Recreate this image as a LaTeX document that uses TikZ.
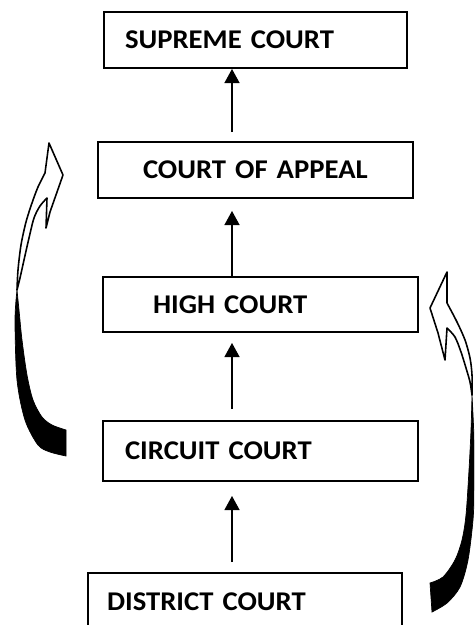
\documentclass[tikz,border=0pt]{standalone}
\usepackage{fontspec}
\setmainfont{Carlito}[FakeStretch=1.06]
\usetikzlibrary{arrows.meta}
\begin{document}
\begin{tikzpicture}[x=0.02cm,y=-0.02cm,
  courtbox/.style={draw,line width=1.1pt,inner xsep=0pt,inner ysep=0pt,align=left,
    font=\fontsize{15.4}{17}\selectfont\bfseries},
  uparrow/.style={line width=0.9pt,-{Triangle[width=8.5pt,length=8pt]}},
  ribbon/.style={draw,line width=0.9pt,line join=round,fill=white},
  ribbonfill/.style={fill=black,draw=black,line width=0.4pt}]
\clip (0,0) rectangle (474,625);
\fill[white] (0,0) rectangle (474,625);

\node[courtbox,text width=6.06cm,minimum height=1.12cm] (sup) at (255.5,40) {\hspace*{0.42cm}SUPREME COURT};
\node[courtbox,text width=6.3cm,minimum height=1.12cm] (appeal) at (255.5,170) {\hspace*{0.9cm}COURT OF APPEAL};
\node[courtbox,text width=6.3cm,minimum height=1.1cm] (high) at (260.5,304.5) {\hspace*{1.0cm}HIGH COURT};
\node[courtbox,text width=6.3cm,minimum height=1.2cm] (circuit) at (260.5,451) {\hspace*{0.44cm}CIRCUIT COURT};
\node[courtbox,text width=6.28cm,minimum height=1.14cm] (district) at (245,601.5) {\hspace*{0.38cm}DISTRICT COURT};

\coordinate (ax) at (232,0);
\draw[uparrow,shorten <=0.18cm] (appeal.north -| ax) -- (sup.south -| ax);
\draw[uparrow,shorten >=0.24cm] (high.north -| ax) -- (appeal.south -| ax);
\draw[uparrow,shorten <=0.22cm,shorten >=0.2cm] (circuit.north -| ax) -- (high.south -| ax);
\draw[uparrow,shorten <=0.2cm,shorten >=0.28cm] (district.north -| ax) -- (circuit.south -| ax);

% left curved arrow (district -> court of appeal)
\fill[ribbonfill] plot[smooth] coordinates {(17,290) (15,320) (17,380) (25,420) (38,445) (50,452) (66,456)}
  -- (66,430)
  -- plot[smooth] coordinates {(66,430) (52,425) (42,417) (33,400) (27,375) (22,340) (19,310) (17,290)} -- cycle;
\draw[ribbon] plot[smooth] coordinates {(17,290) (18,270) (21,245) (26,222) (32,203) (38,187) (45,173)}
  -- (49,143) -- (63,175) -- (50,212) -- (46,228) -- (47,198)
  -- plot[smooth] coordinates {(47,198) (40,206) (34,218) (29,238) (24,260) (20,278) (17,290)} -- cycle;

% right curved arrow (district -> high court)
\fill[ribbonfill] plot[smooth] coordinates {(472,395) (474,440) (474,490) (473,520) (468,560) (460,587) (447,603) (432,612)}
  -- (430,583)
  -- plot[smooth] coordinates {(430,583) (443,577) (455,560) (462,540) (466,515) (469,470) (471,430) (472,395)} -- cycle;
\draw[ribbon] plot[smooth] coordinates {(472,395) (472,375) (470,358) (465,340) (457,322) (447,303)}
  -- (447,272) -- (430,308) -- (438,333) -- (445,360) -- (447,328)
  -- plot[smooth] coordinates {(447,328) (455,337) (461,352) (466,368) (470,382) (472,395)} -- cycle;
\end{tikzpicture}
\end{document}
